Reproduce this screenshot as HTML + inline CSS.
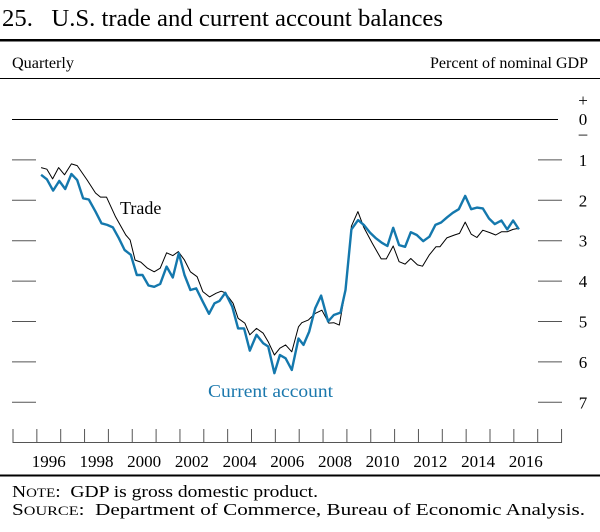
<!DOCTYPE html>
<html><head><meta charset="utf-8"><style>
body{margin:0;background:#fff;}
svg text{font-family:"Liberation Serif",serif;white-space:pre;}
</style></head><body>
<svg width="600" height="527" xmlns="http://www.w3.org/2000/svg" xml:space="preserve" id="chart">
<text x="2" y="26" font-size="24" textLength="441" lengthAdjust="spacingAndGlyphs">25.   U.S. trade and current account balances</text>
<rect x="0" y="39" width="600" height="2.5" fill="#000"/>
<text x="12" y="68" font-size="16" textLength="62" lengthAdjust="spacingAndGlyphs">Quarterly</text>
<text x="430" y="68" font-size="16" textLength="158" lengthAdjust="spacingAndGlyphs">Percent of nominal GDP</text>
<line x1="0" y1="78.5" x2="600" y2="78.5" stroke="#000" stroke-width="1"/>
<text x="583" y="106" font-size="17" text-anchor="middle">+</text>
<text x="583" y="125" font-size="17" text-anchor="middle">0</text>
<text x="583" y="139" font-size="17" text-anchor="middle">–</text>
<g id="axes"></g>
<g id="series"></g>
<text x="120" y="214" font-size="18">Trade</text>
<text x="208" y="397" font-size="18" fill="#1b78ad" textLength="125" lengthAdjust="spacingAndGlyphs">Current account</text>
<rect x="0" y="474.5" width="600" height="2" fill="#000"/>
<text x="12" y="497" font-size="17" textLength="306" lengthAdjust="spacingAndGlyphs">N<tspan font-size="13">OTE</tspan>:  GDP is gross domestic product.</text>
<text x="12" y="515" font-size="17" textLength="573" lengthAdjust="spacingAndGlyphs">S<tspan font-size="13">OURCE</tspan>:  Department of Commerce, Bureau of Economic Analysis.</text>
</svg>
<script>
const yTicks=[1,2,3,4,5,6,7];
const yearLabels=[1996,1998,2000,2002,2004,2006,2008,2010,2012,2014,2016];
const tradeDates=[1996.18,1996.42,1996.66,1996.91,1997.16,1997.45,1997.69,1998.11,1998.46,1998.67,1998.92,1999.30,1999.73,1999.91,2000.12,2000.36,2000.64,2000.92,2001.17,2001.44,2001.70,2001.93,2002.19,2002.44,2002.72,2002.96,2003.24,2003.52,2003.73,2003.90,2004.23,2004.44,2004.72,2004.93,2005.21,2005.49,2005.70,2005.96,2006.19,2006.43,2006.69,2006.97,2007.11,2007.39,2007.67,2007.95,2008.24,2008.45,2008.68,2008.94,2009.19,2009.46,2009.71,2010.06,2010.44,2010.65,2010.94,2011.19,2011.44,2011.68,2011.96,2012.17,2012.46,2012.73,2012.90,2013.19,2013.51,2013.72,2013.96,2014.21,2014.45,2014.70,2014.99,2015.24,2015.48,2015.72,2015.97,2016.21];
const tradeValues=[1.19,1.23,1.47,1.19,1.37,1.10,1.14,1.50,1.82,1.92,1.92,2.41,2.86,2.98,3.48,3.53,3.68,3.77,3.68,3.30,3.37,3.27,3.48,3.77,3.89,4.26,4.39,4.30,4.25,4.29,4.55,4.92,5.04,5.33,5.17,5.29,5.50,5.83,5.66,5.58,5.75,5.13,5.03,4.96,4.80,4.72,5.04,5.03,5.09,4.22,2.64,2.28,2.67,3.06,3.45,3.45,3.13,3.52,3.58,3.44,3.60,3.63,3.35,3.15,3.15,2.93,2.86,2.82,2.54,2.84,2.92,2.74,2.80,2.86,2.78,2.78,2.72,2.69];
const caDates=[1996.18,1996.42,1996.68,1996.94,1997.19,1997.45,1997.69,1997.94,1998.18,1998.46,1998.71,1998.95,1999.19,1999.44,1999.68,1999.94,2000.19,2000.43,2000.68,2000.92,2001.17,2001.44,2001.70,2001.95,2002.19,2002.44,2002.68,2002.96,2003.22,2003.45,2003.66,2003.90,2004.19,2004.44,2004.69,2004.93,2005.21,2005.49,2005.70,2005.96,2006.19,2006.43,2006.69,2006.97,2007.18,2007.42,2007.67,2007.92,2008.21,2008.45,2008.73,2008.94,2009.19,2009.47,2009.71,2009.97,2010.20,2010.46,2010.70,2010.94,2011.19,2011.44,2011.68,2011.93,2012.20,2012.46,2012.71,2012.95,2013.20,2013.44,2013.69,2013.96,2014.21,2014.45,2014.70,2014.96,2015.20,2015.48,2015.72,2015.97,2016.21];
const caValues=[1.37,1.48,1.76,1.52,1.72,1.35,1.50,1.95,1.98,2.28,2.57,2.61,2.67,2.94,3.23,3.35,3.85,3.85,4.11,4.14,4.07,3.64,3.91,3.31,3.85,4.22,4.18,4.51,4.81,4.55,4.49,4.29,4.63,5.17,5.17,5.72,5.33,5.54,5.62,6.28,5.83,5.91,6.20,5.42,5.58,5.25,4.67,4.36,5.00,4.84,4.78,4.22,2.72,2.49,2.61,2.80,2.93,3.05,3.13,2.68,3.11,3.15,2.79,2.86,3.01,2.90,2.61,2.55,2.42,2.31,2.22,1.89,2.22,2.18,2.20,2.45,2.59,2.50,2.72,2.50,2.72];
const NS='http://www.w3.org/2000/svg';
function xS(t){return 13+(t-1995)*23.85;}
function yS(v){return 119.5+40.4*v;}
function mk(tag,attrs,parent){const e=document.createElementNS(NS,tag);for(const k in attrs)e.setAttribute(k,attrs[k]);parent.appendChild(e);return e;}
const axes=document.getElementById('axes');
const z=mk('line',{x1:12,y1:yS(0),x2:558,y2:yS(0),stroke:'#000','stroke-width':1},axes);


yTicks.forEach(v=>{
  const l=mk('line',{x1:12,y1:yS(v),x2:36,y2:yS(v),stroke:'#555','stroke-width':1},axes);
  
  
  const r=mk('line',{x1:538,y1:yS(v),x2:562,y2:yS(v),stroke:'#555','stroke-width':1},axes);
  
  
  const t=mk('text',{x:583,y:yS(v)+6,'font-size':17,'text-anchor':'middle'},axes);
  t.textContent=v;
  
  
});
const base=mk('line',{x1:xS(1995),y1:442.5,x2:xS(2018),y2:442.5,stroke:'#555','stroke-width':1},axes);


for(let yr=1995;yr<=2018;yr++){
  const l=mk('line',{x1:xS(yr),y1:429,x2:xS(yr),y2:443,stroke:'#555','stroke-width':1},axes);
  
  
}
yearLabels.forEach(yr=>{
  const t=mk('text',{x:xS(yr+0.5),y:467,'font-size':17,'text-anchor':'middle'},axes);
  t.textContent=yr;
  
  
});
const series=document.getElementById('series');
function pts(d,v){return d.map((t,i)=>xS(t).toFixed(1)+','+yS(v[i]).toFixed(1)).join(' ');}
const tr=mk('polyline',{points:pts(tradeDates,tradeValues),fill:'none',stroke:'#000','stroke-width':1,'stroke-linejoin':'round'},series);


const ca=mk('polyline',{points:pts(caDates,caValues),fill:'none',stroke:'#1478ad','stroke-width':2.4,'stroke-linejoin':'round'},series);


</script>
</body></html>
